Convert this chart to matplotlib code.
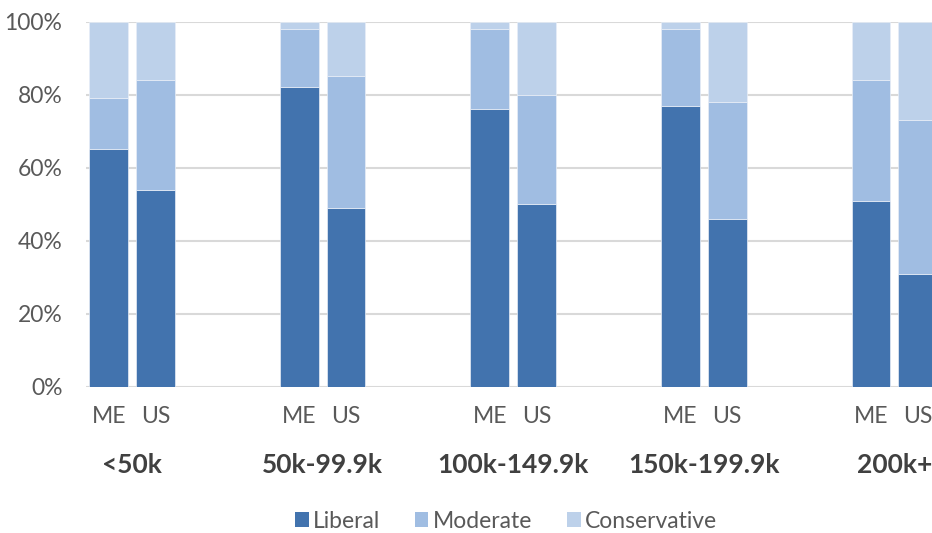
import matplotlib
matplotlib.use("Agg")
import matplotlib.pyplot as plt
from matplotlib.patches import Patch
import matplotlib.transforms as mtrans
import numpy as np

plt.rcParams['font.family'] = ['Lato', 'DejaVu Sans']

groups = ["<50k", "50k-99.9k", "100k-149.9k", "150k-199.9k", "200k+"]
bar_names = ["ME", "US"]
series = ["Liberal", "Moderate", "Conservative"]

# percent values per group, [ME, US]
liberal = {"ME": [65, 82, 76, 77, 51], "US": [54, 49, 50, 46, 31]}
moderate = {"ME": [14, 16, 22, 21, 33], "US": [30, 36, 30, 32, 42]}
conservative = {"ME": [21, 2, 2, 2, 16], "US": [16, 15, 20, 22, 27]}

colors = ["#4273AE", "#A0BDE2", "#BDD1EA"]

fig = plt.figure(figsize=(9.32, 5.33), dpi=100)
ax = fig.add_axes([86/932, 1 - 386.7/533, 1 - 86/932, (386.7 - 21.7)/533])

x = np.arange(len(groups))
offset = 0.123
width = 0.203
positions = {"ME": x - offset, "US": x + offset}

for name in bar_names:
    bottom = np.zeros(len(groups))
    for vals, col in zip([liberal, moderate, conservative], colors):
        v = np.array(vals[name], dtype=float)
        ax.bar(positions[name], v, width, bottom=bottom, color=col,
               edgecolor="#E8EEF7", linewidth=0.5, zorder=3)
        bottom += v

ax.set_ylim(0, 100)
ax.set_xlim(-0.2425, 4.198)
ax.set_yticks(np.arange(0, 101, 20))
ax.set_yticklabels([f"{v}%" for v in range(0, 101, 20)])
ax.yaxis.grid(True, color="#D9D9D9", linewidth=1.5, zorder=0)
ax.set_axisbelow(True)
for s in ax.spines.values():
    s.set_visible(False)
ax.tick_params(axis="y", length=0, pad=17, labelsize=16.5, labelcolor="#595959")

tick_pos = np.concatenate([positions["ME"], positions["US"]])
tick_lab = ["ME"] * len(groups) + ["US"] * len(groups)
ax.set_xticks(tick_pos)
ax.set_xticklabels(tick_lab)
ax.tick_params(axis="x", length=0, pad=14, labelsize=16.5, labelcolor="#595959")

trans = mtrans.blended_transform_factory(ax.transData, fig.transFigure)
for i, g in enumerate(groups):
    ax.text(x[i], 1 - 465/533, g, transform=trans, ha="center", va="center",
            fontsize=19, fontweight="bold", color="#404040", clip_on=False)

handles = [Patch(facecolor=c, edgecolor="none") for c in colors]
fig.legend(handles, series, loc="center", bbox_to_anchor=(506/932, 1 - 521/533),
           ncol=3, frameon=False, fontsize=16.5, labelcolor="#595959",
           handlelength=0.6, handleheight=0.6, handletextpad=0.2,
           columnspacing=1.5)

fig.savefig("out.png", dpi=100)
